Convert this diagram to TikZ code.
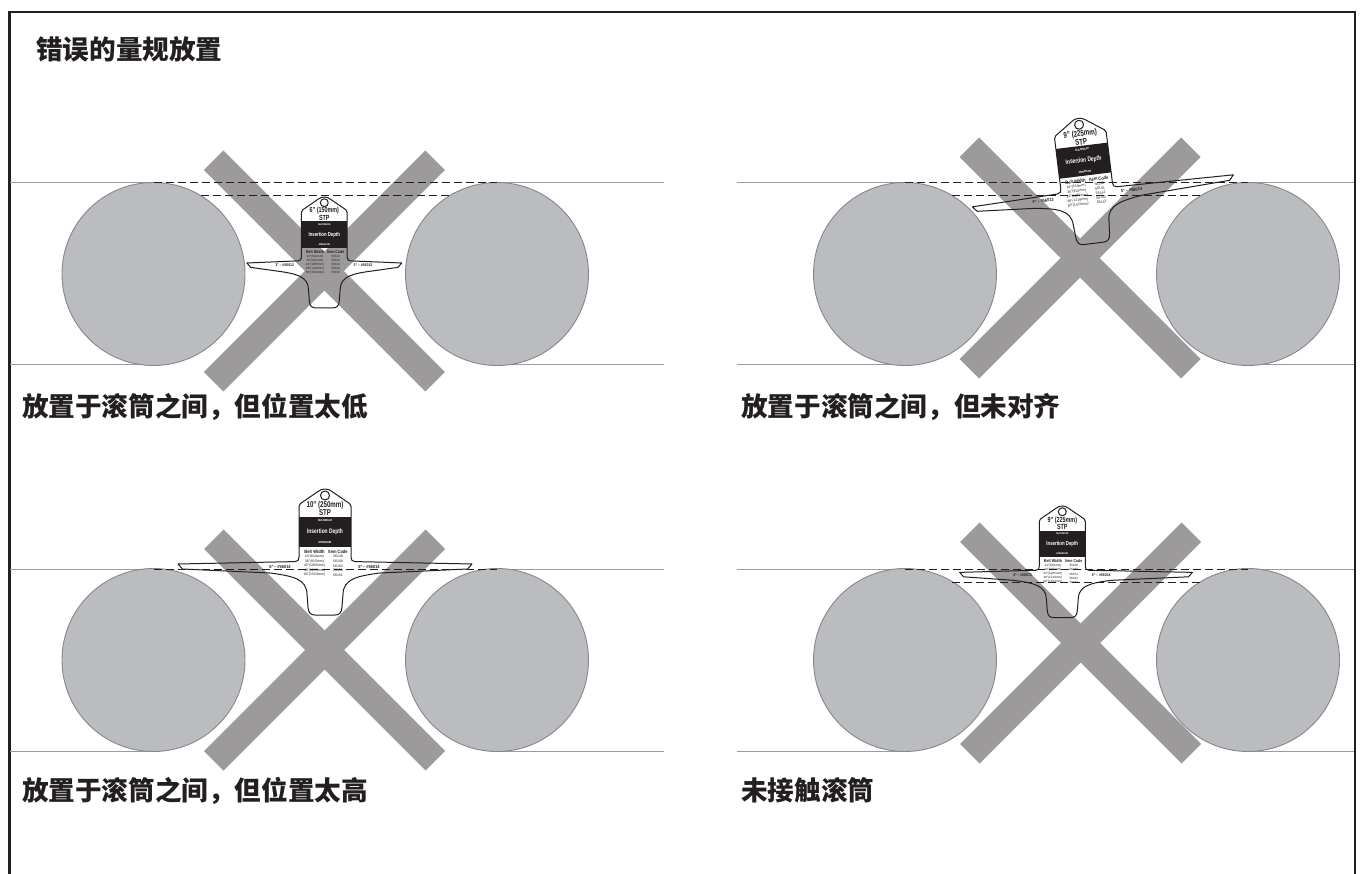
\documentclass[tikz,border=0pt]{standalone}
\usepackage{fontspec}
\setmainfont{Liberation Sans}
\newfontfamily\cjk{Noto Sans CJK SC}
\definecolor{ink}{HTML}{231F20}
\definecolor{xgray}{HTML}{9C9A9A}
\definecolor{rollfill}{HTML}{BBBCBF}
\definecolor{rollline}{HTML}{86878A}
\definecolor{rail}{HTML}{9A9B9D}
\tikzset{
  frameline/.style={draw=ink,line width=2.6pt},
  railline/.style={draw=rail,line width=1pt},
  roller/.style={draw=rollline,fill=rollfill,line width=.9pt},
  xbar/.style={draw=none,fill=xgray},
  dashline/.style={draw=ink,line width=1pt,dash pattern=on 8pt off 4pt},
  gline/.style={draw=ink,line width=1pt,line join=round},
  caption/.style={anchor=base west,inner sep=0pt,text=ink,font=\cjk\bfseries\fontsize{26.6}{30}\selectfont},
  gtxt/.style={inner sep=0pt,text=ink,transform shape},
  gwhite/.style={inner sep=0pt,text=white,transform shape},
}
\newcommand{\barsB}[2]{%
  \fill[xbar] (#1-101,#2-120.5) -- (#1-120.5,#2-101) -- (#1+101,#2+120.5) -- (#1+120.5,#2+101) -- cycle;
  \fill[xbar] (#1+101,#2-120.5) -- (#1+120.5,#2-101) -- (#1-101,#2+120.5) -- (#1-120.5,#2+101) -- cycle;
}
\newcommand{\gauge}[9]{%
  \begin{scope}[shift={(#2,#3)},rotate=#4,scale=#5]
    \fill[ink] (-26,27.7) rectangle (26,57.7);
    \draw[gline] (0,0) .. controls (3,0) and (5,1) .. (7,2.5) -- (24.5,14.5) .. controls (25.5,15.2) and (26,16) .. (26,17.5)
      -- (26,68) .. controls (26,71) and (27,72.5) .. (30,72.6) -- (#7,75) -- (#7-4.4,80) -- (55,84)
      .. controls (32,87) and (18.5,90) .. (18,105) -- (17,118) .. controls (16.7,124) and (14,126) .. (10,126)
      -- (-10,126) .. controls (-14,126) and (-16.7,124) .. (-17,118) -- (-18,105)
      .. controls (-18.5,90) and (-32,87) .. (-55,84) -- (-#6+4.4,80) -- (-#6,75) -- (-30,72.6)
      .. controls (-27,72.5) and (-26,71) .. (-26,68) -- (-26,17.5) .. controls (-26,16) and (-25.5,15.2) .. (-24.5,14.5)
      -- (-7,2.5) .. controls (-5,1) and (-3,0) .. (0,0) -- cycle;
    \draw[gline] (0,6.5) circle [radius=4.5];
    \node[gtxt,font=\bfseries\fontsize{8.4}{9}\selectfont,xscale=.73] (#1-head) at (0,16) {#8};
    \node[gtxt,font=\bfseries\fontsize{8.4}{9}\selectfont,xscale=.73] (#1-stp) at (0,24) {STP};
    \node[gwhite,font=\bfseries\fontsize{2.8}{3}\selectfont] (#1-max) at (0,31.5) {MAXIMUM};
    \node[gwhite,font=\bfseries\fontsize{6.5}{7}\selectfont,xscale=.75] (#1-ins) at (0,42.7) {Insertion Depth};
    \node[gwhite,font=\bfseries\fontsize{2.8}{3}\selectfont] (#1-min) at (0,54) {MINIMUM};
    \node[gtxt,font=\bfseries\fontsize{4.7}{5}\selectfont,xscale=.88] (#1-bw) at (-10.5,62.4) {Belt Width};
    \node[gtxt,font=\bfseries\fontsize{4.7}{5}\selectfont,xscale=.85] (#1-ic) at (13,62.4) {Item Code};
    \node[gtxt,font=\bfseries\fontsize{4.4}{5}\selectfont,xscale=.9] (#1-ll) at (-45,77.7) {#9};
    \node[gtxt,font=\bfseries\fontsize{4.4}{5}\selectfont,xscale=.9] (#1-rl) at (44,77.7) {\rlab};
    \foreach \w/\c/\yy [count=\i] in \rows {
      \node[gtxt,font=\fontsize{3.5}{4}\selectfont] (#1-w\i) at (-10.5,\yy) {\w};
      \node[gtxt,font=\fontsize{3.5}{4}\selectfont] (#1-c\i) at (13,\yy) {\c};
    }
  \end{scope}
}
\begin{document}
\begin{tikzpicture}[x=1pt,y=-1pt]
\useasboundingbox (0,0) rectangle (1360,874);
\fill[white] (0,0) rectangle (1360,874);
\draw[frameline] (9.5,880) -- (9.5,12) -- (1355,12) -- (1355,880);
\node[caption] (title) at (36,60) {错误的量规放置};
% panel 1
\draw[railline] (10,183) -- (153.5,183) (497,183) -- (664,183) (10,365) -- (153.5,365) (497,365) -- (664,365);
\barsB{324.3}{271}
\filldraw[roller] (153.5,274) circle [radius=91.5];
\filldraw[roller] (497,274) circle [radius=91.5];
\draw[dashline] (153.5,183) -- (497,183);
\draw[dashline] (201,195.5) -- (450,195.5);
\def\rlab{3"\,– \#56012}
\def\rows{24"(610mm)/56112/67.5,36"(915mm)/56113/72.2,42"(1065mm)/56114/77,48"(1219mm)/56114/81.5,60"(1524mm)/56115/86}
\gauge{ga}{324.3}{197}{0}{.88}{88}{88}{6" (150mm)}{3"\,– \#56012}
\node[caption] (cap1) at (22,416.5) {放置于滚筒之间，但位置太低};
% panel 2
\draw[railline] (737,183) -- (905,183) (1248,183) -- (1354,183) (737,365) -- (905,365) (1248,365) -- (1354,365);
\barsB{1080}{258}
\filldraw[roller] (905,274) circle [radius=91.5];
\filldraw[roller] (1248,274) circle [radius=91.5];
\draw[dashline] (905,183) -- (1248,183);
\draw[dashline] (952,195.5) -- (1201,195.5);
\def\rlab{5"\,– \#56014}
\def\rows{24"(610mm)/56140/67.5,36"(915mm)/56141/72.2,42"(1065mm)/56142/77,48"(1219mm)/56142/81.5,60"(1524mm)/56143/86}
\gauge{gb}{1078.3}{118.3}{7}{1}{116}{147}{9" (225mm)}{4"\,– \#56013}
\node[caption] (cap2) at (741,416.5) {放置于滚筒之间，但未对齐};
% panel 3
\draw[railline] (10,569) -- (153.5,569) (497,569) -- (664,569) (10,751) -- (153.5,751) (497,751) -- (664,751);
\barsB{324.5}{650}
\filldraw[roller] (153.5,660) circle [radius=91.5];
\filldraw[roller] (497,660) circle [radius=91.5];
\draw[dashline] (153.5,569) -- (497,569);
\def\rlab{5"\,– \#56014}
\def\rows{24"(610mm)/56148/67.5,36"(915mm)/56149/72.2,42"(1065mm)/56150/77,48"(1219mm)/56150/81.5,60"(1524mm)/56151/86}
\gauge{gc}{325}{489}{0}{1}{147}{147}{10" (250mm)}{5"\,– \#56014}
\node[caption] (cap3) at (22,800.5) {放置于滚筒之间，但位置太高};
% panel 4
\draw[railline] (737,569) -- (905,569) (1248,569) -- (1354,569) (737,751) -- (905,751) (1248,751) -- (1354,751);
\barsB{1080.5}{643}
\filldraw[roller] (905,660) circle [radius=91.5];
\filldraw[roller] (1248,660) circle [radius=91.5];
\draw[dashline] (905,569.5) -- (1248,569.5);
\draw[dashline] (952,582.5) -- (1201,582.5);
\def\rlab{5"\,– \#56014}
\def\rows{24"(610mm)/56160/67.5,36"(915mm)/56160/72.2,42"(1065mm)/56161/77,48"(1219mm)/56162/81.5,60"(1524mm)/56163/86}
\gauge{gd}{1062.3}{506}{0}{.885}{116}{147}{9" (225mm)}{4"\,– \#56013}
\node[caption] (cap4) at (741,800.5) {未接触滚筒};
\end{tikzpicture}
\end{document}
